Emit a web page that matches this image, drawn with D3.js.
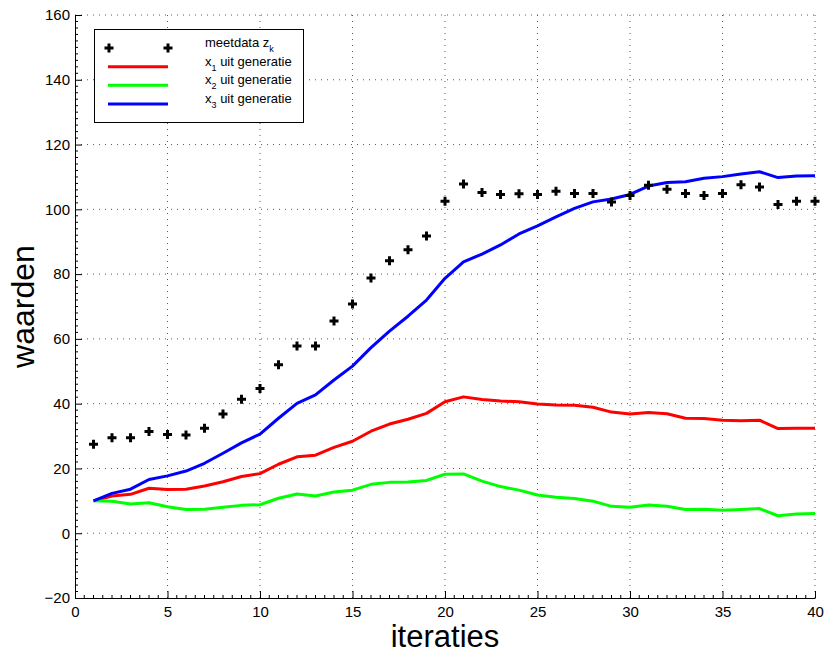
<!DOCTYPE html>
<html>
<head>
<meta charset="utf-8">
<script src="https://cdn.jsdelivr.net/npm/d3@7"></script>
<style>
  html, body { margin: 0; padding: 0; background: #fff; }
  svg { display: block; font-family: "Liberation Sans", Arial, Helvetica, sans-serif; }
</style>
</head>
<body>
<svg id="chart" width="825" height="654"></svg>
<script>
const iteraties = [1,2,3,4,5,6,7,8,9,10,11,12,13,14,15,16,17,18,19,20,21,22,23,24,25,26,27,28,29,30,31,32,33,34,35,36,37,38,39,40];
const meetdata = [27.5,29.5,29.5,31.4,30.5,30.3,32.4,36.8,41.4,44.7,52.0,57.8,57.8,65.5,70.8,78.8,84.1,87.5,91.8,102.5,107.8,105.2,104.6,104.8,104.6,105.6,104.9,104.9,102.3,104.3,107.4,106.2,104.9,104.3,104.9,107.6,106.9,101.5,102.5,102.5];
const x1 = [10,11.5,12,13.9,13.5,13.6,14.6,15.9,17.5,18.4,21.3,23.6,24.1,26.5,28.4,31.5,33.7,35.2,37,40.6,42.1,41.3,40.8,40.6,39.9,39.6,39.5,38.9,37.4,36.8,37.3,36.9,35.5,35.4,34.9,34.7,34.9,32.3,32.4,32.4];
const x2 = [10,9.9,9.0,9.4,8.2,7.3,7.4,8.0,8.6,8.8,10.8,12.1,11.5,12.7,13.3,15.1,15.7,15.8,16.3,18.2,18.3,16.1,14.4,13.3,11.8,11.1,10.7,9.9,8.3,8.0,8.7,8.3,7.3,7.4,7.1,7.3,7.6,5.4,5.9,6.1];
const x3 = [10,12.3,13.6,16.6,17.7,19.2,21.6,24.7,27.9,30.6,35.5,40.1,42.7,47.3,51.6,57.3,62.4,67,72,78.7,83.8,86.2,89,92.4,94.9,97.7,100.3,102.3,103.2,104.6,107.2,108.3,108.5,109.6,110.1,110.9,111.6,109.8,110.3,110.4];
const xTicks = [0,5,10,15,20,25,30,35,40];
const yTicks = [-20,0,20,40,60,80,100,120,140,160];
const xDomain = [0,40];
const yDomain = [-20,160];
const xLabel = "iteraties";
const yLabel = "waarden";

const svg = d3.select("#chart");
const L = 75, R = 815, T = 15, B = 598;
const x = d3.scaleLinear().domain(xDomain).range([L, R]);
const y = d3.scaleLinear().domain(yDomain).range([B, T]);

// grid
const grid = svg.append("g").attr("stroke", "#222").attr("stroke-width", 1).attr("stroke-dasharray", "1,5").attr("fill", "none").attr("opacity", 0.75);
xTicks.filter(d => d !== xDomain[0]).forEach(d => {
  grid.append("line").attr("x1", x(d)).attr("x2", x(d)).attr("y1", B).attr("y2", T);
});
yTicks.filter(d => d !== yDomain[0]).forEach(d => {
  grid.append("line").attr("x1", L).attr("x2", R).attr("y1", y(d)).attr("y2", y(d));
});

// lines
const series = [
  {vals: x1, color: "#ff0000"},
  {vals: x2, color: "#00ff00"},
  {vals: x3, color: "#0000ff"}
];
const line = d3.line().x((d, i) => x(iteraties[i])).y(d => y(d));
series.forEach(s => {
  svg.append("path").datum(s.vals).attr("d", line)
    .attr("fill", "none").attr("stroke", s.color).attr("stroke-width", 3)
    .attr("stroke-linejoin", "round").attr("stroke-linecap", "butt");
});

// markers
const plus = (g, cx, cy) => {
  const h = 4.5;
  g.append("path").attr("d", `M${cx - h},${cy}H${cx + h}M${cx},${cy - h}V${cy + h}`)
    .attr("stroke", "#000").attr("stroke-width", 3).attr("fill", "none");
};
const mk = svg.append("g");
meetdata.forEach((v, i) => plus(mk, x(iteraties[i]), y(v)));

// axes
const xAxis = d3.axisBottom(x).tickValues(xTicks).tickSizeInner(-7).tickSizeOuter(0).tickPadding(12);
const gx = svg.append("g").attr("transform", `translate(0,${B})`).call(xAxis);
const yAxis = d3.axisLeft(y).tickValues(yTicks).tickSizeInner(-7).tickSizeOuter(0).tickPadding(12);
const gy = svg.append("g").attr("transform", `translate(${L},0)`).call(yAxis);
[gx, gy].forEach(g => {
  g.selectAll("text").attr("font-size", 15).attr("fill", "#000").attr("font-family", "\"Liberation Sans\", Arial, sans-serif");
  g.select(".domain").attr("stroke", "#000");
  g.selectAll(".tick line").attr("stroke", "#000");
});
gx.selectAll("text").attr("dy", "0.75em").attr("y", 8);
gy.selectAll("text").attr("x", -5);
gx.selectAll("text").text(d => d);
gy.selectAll("text").text(d => d < 0 ? "\u2212" + Math.abs(d) : d);

// minor ticks
const minor = svg.append("g").attr("stroke", "#000").attr("stroke-width", 1);
x.ticks(80).filter(d => !xTicks.includes(d)).forEach(d => {
  minor.append("line").attr("x1", x(d)).attr("x2", x(d)).attr("y1", B).attr("y2", B - 3);
});
y.ticks(90).filter(d => !yTicks.includes(d)).forEach(d => {
  minor.append("line").attr("x1", L).attr("x2", L + 3).attr("y1", y(d)).attr("y2", y(d));
});

// axis titles
svg.append("text").attr("x", (L + R) / 2).attr("y", 647).attr("text-anchor", "middle")
  .attr("font-size", 31).attr("fill", "#000").text(xLabel);
svg.append("text").attr("transform", `translate(34,${(245 + 368) / 2}) rotate(-90)`).attr("text-anchor", "middle")
  .attr("font-size", 32).attr("fill", "#000").text(yLabel);

// legend
const lg = svg.append("g");
lg.append("rect").attr("x", 94.5).attr("y", 29.5).attr("width", 209).attr("height", 93)
  .attr("fill", "#fff").attr("stroke", "#000").attr("stroke-width", 1);
plus(lg, 109, 48);
plus(lg, 168, 48);
const legendItems = [
  {label: "meetdata z", sub: "k", base: 48, color: null},
  {label: "x", sub: "1", rest: " uit generatie", base: 66.7, color: "#ff0000"},
  {label: "x", sub: "2", rest: " uit generatie", base: 85.3, color: "#00ff00"},
  {label: "x", sub: "3", rest: " uit generatie", base: 104, color: "#0000ff"}
];
legendItems.forEach(it => {
  if (it.color) {
    lg.append("line").attr("x1", 108).attr("x2", 168).attr("y1", it.base).attr("y2", it.base)
      .attr("stroke", it.color).attr("stroke-width", 3);
  }
  const t = lg.append("text").attr("x", 205).attr("y", it.base - 1).attr("font-size", 13).attr("fill", "#000");
  t.append("tspan").text(it.label);
  t.append("tspan").attr("font-size", 9).attr("dy", 5).text(it.sub);
  if (it.rest) t.append("tspan").attr("dy", -5).text(it.rest);
});
</script>
</body>
</html>
